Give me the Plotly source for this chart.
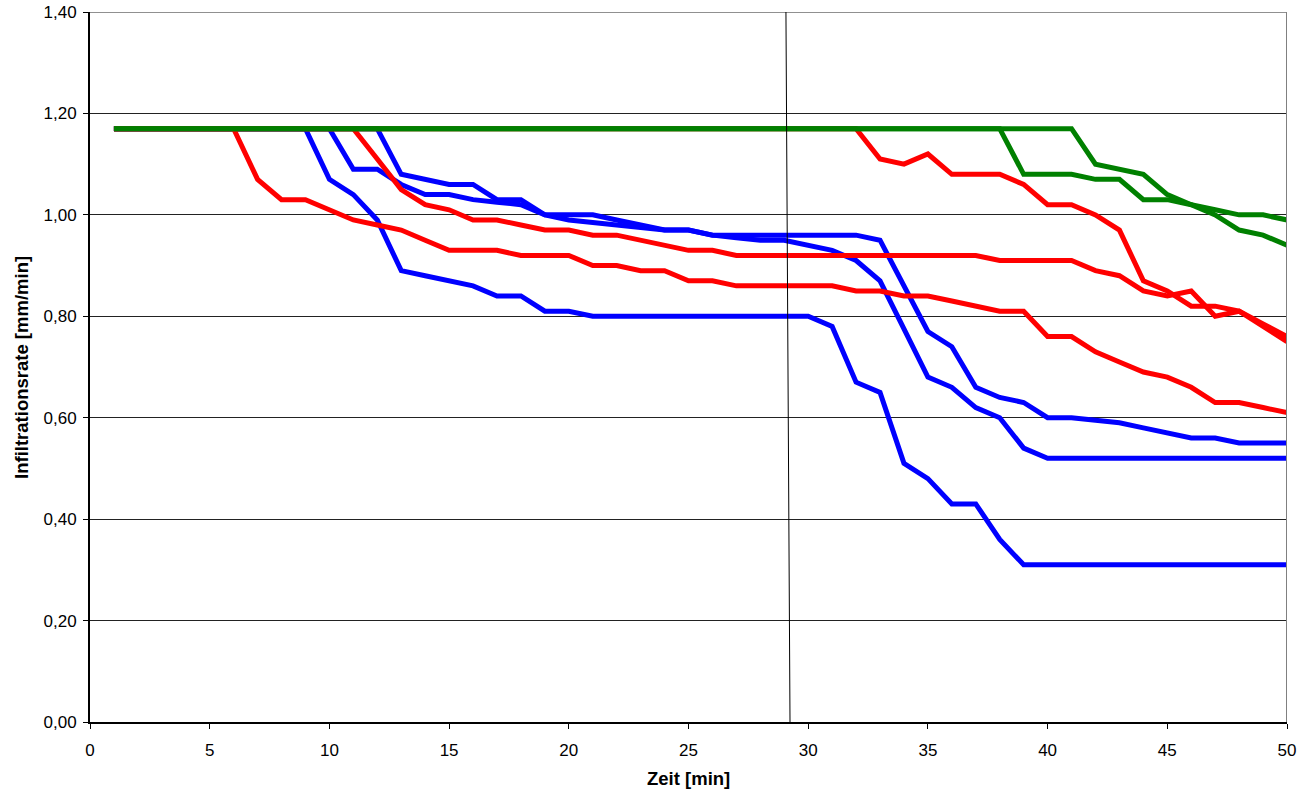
import plotly.graph_objects as go

minutes = list(range(1, 51))

blue_a = [1.17]*9 + [1.07, 1.04, 0.99, 0.89, 0.88, 0.87, 0.86, 0.84, 0.84, 0.81, 0.81] + [0.80]*10 + \
         [0.78, 0.67, 0.65, 0.51, 0.48, 0.43, 0.43, 0.36] + [0.31]*12
blue_b = [1.17]*10 + [1.09, 1.09, 1.06, 1.04, 1.04, 1.03, 1.025, 1.02, 1.00, 0.99, 0.985, 0.98, 0.975,
                      0.97, 0.97, 0.96, 0.955, 0.95, 0.95, 0.94, 0.93, 0.91, 0.87, 0.775, 0.68, 0.66,
                      0.62, 0.60, 0.54] + [0.52]*11
blue_c = [1.17]*12 + [1.08, 1.07, 1.06, 1.06, 1.03, 1.03, 1.00, 1.00, 1.00, 0.99, 0.98, 0.97, 0.97] + \
         [0.96]*7 + [0.95, 0.86, 0.77, 0.74, 0.66, 0.64, 0.63, 0.60, 0.60, 0.595, 0.59, 0.58, 0.57,
                     0.56, 0.56, 0.55, 0.55, 0.55]

red_a = [1.17]*6 + [1.07, 1.03, 1.03, 1.01, 0.99, 0.98, 0.97, 0.95, 0.93, 0.93, 0.93, 0.92, 0.92, 0.92,
                    0.90, 0.90, 0.89, 0.89, 0.87, 0.87] + [0.86]*5 + \
        [0.85, 0.85, 0.84, 0.84, 0.83, 0.82, 0.81, 0.81, 0.76, 0.76, 0.73, 0.71, 0.69, 0.68, 0.66,
         0.63, 0.63, 0.62, 0.61]
red_b = [1.17]*11 + [1.11, 1.05, 1.02, 1.01, 0.99, 0.99, 0.98, 0.97, 0.97, 0.96, 0.96, 0.95, 0.94,
                     0.93, 0.93] + [0.92]*11 + [0.91]*4 + \
        [0.89, 0.88, 0.85, 0.84, 0.85, 0.80, 0.81, 0.78, 0.75]
red_c = [1.17]*32 + [1.11, 1.10, 1.12, 1.08, 1.08, 1.08, 1.06, 1.02, 1.02, 1.00, 0.97, 0.87, 0.85,
                     0.82, 0.82, 0.81, 0.785, 0.76]

green_a = [1.17]*41 + [1.10, 1.09, 1.08, 1.04, 1.02, 1.01, 1.00, 1.00, 0.99]
green_b = [1.17]*38 + [1.08, 1.08, 1.08, 1.07, 1.07, 1.03, 1.03, 1.02, 1.00, 0.97, 0.96, 0.94]

series = [
    (blue_a, "#0000FF"), (blue_b, "#0000FF"), (blue_c, "#0000FF"),
    (red_a, "#FF0000"), (red_b, "#FF0000"), (red_c, "#FF0000"),
    (green_a, "#008000"), (green_b, "#008000"),
]

marker_x = [29.07, 29.24]
marker_y = [1.40, 0.0]

x_title = "Zeit [min]"
y_title = "Infiltrationsrate [mm/min]"

fig = go.Figure()
for vals, col in series:
    fig.add_trace(go.Scatter(x=minutes, y=vals, mode="lines",
                             line=dict(color=col, width=5), hoverinfo="skip"))

# top gridline (1,40) and right plot border
fig.add_shape(type="line", xref="paper", yref="y", x0=0, y0=1.4, x1=1, y1=1.4,
              line=dict(color="#222222", width=1), layer="below")
fig.add_shape(type="line", xref="x", yref="y", x0=50, y0=0, x1=50, y1=1.4,
              line=dict(color="#808080", width=2))
fig.add_shape(type="line", xref="x", yref="y", x0=marker_x[0], y0=marker_y[0],
              x1=marker_x[1], y1=marker_y[1], line=dict(color="black", width=1))

font_family = "Liberation Sans, Arial, sans-serif"

fig.add_annotation(text="<b>%s</b>" % x_title, xref="paper", yref="paper",
                   x=0.5, y=-0.0789, xanchor="center", yanchor="middle",
                   showarrow=False, font=dict(family=font_family, size=18.5, color="black"))
fig.add_annotation(text="<b>%s</b>" % y_title, xref="paper", yref="paper",
                   x=-0.0577, y=0.5, xanchor="center", yanchor="middle", textangle=-90,
                   showarrow=False, font=dict(family=font_family, size=18.5, color="black"))

fig.update_layout(
    width=1299, height=791,
    margin=dict(l=90, r=12, t=12, b=69, autoexpand=False),
    paper_bgcolor="white", plot_bgcolor="white",
    showlegend=False,
    hovermode=False,
    separators=",.",
    font=dict(family=font_family, size=17, color="black"),
    xaxis=dict(range=[0, 50], dtick=5, tick0=0, showgrid=False, zeroline=False,
               showline=True, linecolor="black", linewidth=2, automargin=False,
               ticks="outside", ticklen=5, tickcolor="black", tickwidth=1,
               ticklabelstandoff=7, tickfont=dict(size=17)),
    yaxis=dict(range=[0, 1.4], dtick=0.2, tick0=0, tickformat=".2f",
               showgrid=True, gridcolor="#222222", gridwidth=1, zeroline=False,
               showline=True, linecolor="black", linewidth=2, automargin=False,
               ticks="outside", ticklen=5, tickcolor="black", tickwidth=1,
               ticklabelstandoff=3, tickfont=dict(size=17)),
)

# remove the default 8px page margin so the 1299x791 figure fills the window exactly
fig.write_html("out.html", config={"displayModeBar": False},
               post_script="document.body.style.margin='0';")
